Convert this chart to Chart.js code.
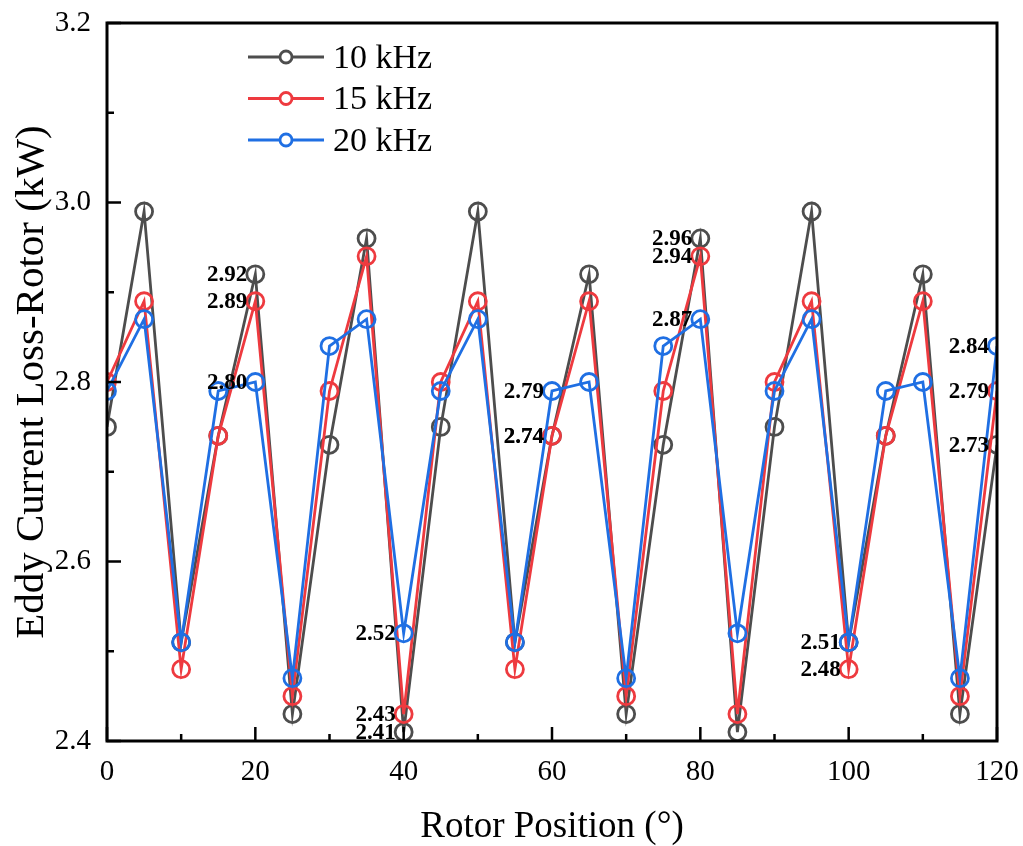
<!DOCTYPE html>
<html>
<head>
<meta charset="utf-8">
<script src="https://cdn.jsdelivr.net/npm/chart.js@4/dist/chart.umd.min.js"></script>
<style>
  html, body { margin: 0; padding: 0; background: #fff; }
  canvas { display: block; }
</style>
</head>
<body>
<canvas id="myChart" width="1023" height="846"></canvas>
<script>
const positions = [0, 5, 10, 15, 20, 25, 30, 35, 40, 45, 50, 55, 60, 65, 70, 75, 80, 85, 90, 95, 100, 105, 110, 115, 120];

const loss10 = [2.75, 2.99, 2.51, 2.74, 2.92, 2.43, 2.73, 2.96, 2.41, 2.75, 2.99, 2.51, 2.74, 2.92, 2.43, 2.73, 2.96, 2.41, 2.75, 2.99, 2.51, 2.74, 2.92, 2.43, 2.73];
const loss15 = [2.80, 2.89, 2.48, 2.74, 2.89, 2.45, 2.79, 2.94, 2.43, 2.80, 2.89, 2.48, 2.74, 2.89, 2.45, 2.79, 2.94, 2.43, 2.80, 2.89, 2.48, 2.74, 2.89, 2.45, 2.79];
const loss20 = [2.79, 2.87, 2.51, 2.79, 2.80, 2.47, 2.84, 2.87, 2.52, 2.79, 2.87, 2.51, 2.79, 2.80, 2.47, 2.84, 2.87, 2.52, 2.79, 2.87, 2.51, 2.79, 2.80, 2.47, 2.84];

// positions where the value is written next to the marker
const labelAt10 = [20, 40, 60, 80, 120];
const labelAt15 = [20, 40, 60, 80, 100, 120];
const labelAt20 = [20, 40, 60, 80, 100, 120];

const serif = '"Liberation Serif", "Times New Roman", serif';

function series(label, values, color, order, labelAt) {
    return {
        label: label,
        data: positions.map((p, i) => ({x: p, y: values[i]})),
        borderColor: color,
        backgroundColor: 'rgba(0,0,0,0)',
        borderWidth: 2.8,
        pointRadius: 8.5,
        pointBorderWidth: 2.8,
        pointBackgroundColor: 'rgba(0,0,0,0)',
        pointBorderColor: color,
        tension: 0,
        clip: 0,
        order: order,
        labelAt: labelAt
    };
}

const data = {
    datasets: [
        series('10 kHz', loss10, '#4d4d4d', 3, labelAt10),
        series('15 kHz', loss15, '#ee3a3f', 2, labelAt15),
        series('20 kHz', loss20, '#1f6fe3', 1, labelAt20)
    ]
};

// frame, inward ticks, value labels and legend
const decorations = {
    id: 'decorations',
    afterDatasetsDraw(chart) {
        const {ctx, chartArea: a, scales: {x, y}} = chart;
        ctx.save();

        // value labels
        ctx.font = 'bold 23px ' + serif;
        ctx.fillStyle = '#000';
        ctx.textAlign = 'right';
        ctx.textBaseline = 'middle';
        chart.data.datasets.forEach((ds, i) => {
            const meta = chart.getDatasetMeta(i);
            ds.labelAt.forEach(p => {
                const j = positions.indexOf(p);
                const pt = meta.data[j];
                ctx.fillText(ds.data[j].y.toFixed(2), pt.x - 8, pt.y + 1);
            });
        });

        // frame
        ctx.strokeStyle = '#000';
        ctx.lineWidth = 3;
        ctx.strokeRect(a.left, a.top, a.right - a.left, a.bottom - a.top);

        // ticks pointing into the plot
        ctx.lineWidth = 2.5;
        ctx.beginPath();
        for (let v = 0; v <= 120; v += 10) {
            const px = x.getPixelForValue(v);
            const len = v % 20 === 0 ? 14 : 7;
            ctx.moveTo(px, a.bottom);
            ctx.lineTo(px, a.bottom - len);
        }
        for (let k = 0; k <= 8; k++) {
            const py = y.getPixelForValue(2.4 + k * 0.1);
            const len = k % 2 === 0 ? 14 : 7;
            ctx.moveTo(a.left, py);
            ctx.lineTo(a.left + len, py);
        }
        ctx.stroke();

        // legend
        ctx.font = '34px ' + serif;
        ctx.textAlign = 'left';
        chart.data.datasets.forEach((ds, i) => {
            const ly = 57 + i * 41.5;
            ctx.strokeStyle = ds.borderColor;
            ctx.lineWidth = 2.8;
            ctx.beginPath();
            ctx.moveTo(248, ly);
            ctx.lineTo(324, ly);
            ctx.stroke();
            ctx.beginPath();
            ctx.arc(286, ly, 6, 0, Math.PI * 2);
            ctx.fillStyle = '#fff';
            ctx.fill();
            ctx.stroke();
            ctx.fillStyle = '#000';
            ctx.fillText(ds.label, 333, ly + 2);
        });

        ctx.restore();
    }
};

const config = {
    type: 'line',
    data: data,
    options: {
        responsive: false,
        animation: false,
        layout: {
            padding: {left: 0, top: 23, right: 26, bottom: 0}
        },
        plugins: {
            legend: {display: false},
            tooltip: {enabled: false}
        },
        scales: {
            x: {
                type: 'linear',
                min: 0,
                max: 120,
                grid: {display: false, drawTicks: false},
                border: {display: false},
                ticks: {
                    stepSize: 20,
                    color: '#000',
                    padding: 14,
                    maxRotation: 0,
                    font: {family: serif, size: 29}
                },
                title: {
                    display: true,
                    text: 'Rotor Position (°)',
                    color: '#000',
                    padding: {top: 0, bottom: 0},
                    font: {family: serif, size: 37, lineHeight: 1}
                },
                afterFit(scale) {
                    scale.height = 105;
                    scale.paddingLeft = 0;
                    scale.paddingRight = 0;
                }
            },
            y: {
                type: 'linear',
                min: 2.4,
                max: 3.2,
                grid: {display: false, drawTicks: false},
                border: {display: false},
                ticks: {
                    stepSize: 0.2,
                    color: '#000',
                    padding: 16,
                    font: {family: serif, size: 29},
                    callback: v => v.toFixed(1)
                },
                title: {
                    display: true,
                    text: 'Eddy Current Loss-Rotor (kW)',
                    color: '#000',
                    padding: {top: 12, bottom: 0},
                    font: {family: serif, size: 41, lineHeight: 1}
                },
                afterFit(scale) {
                    scale.width = 107;
                    scale.paddingTop = 0;
                    scale.paddingBottom = 0;
                }
            }
        }
    },
    plugins: [decorations]
};

const myChart = new Chart(document.getElementById('myChart'), config);
</script>
</body>
</html>
